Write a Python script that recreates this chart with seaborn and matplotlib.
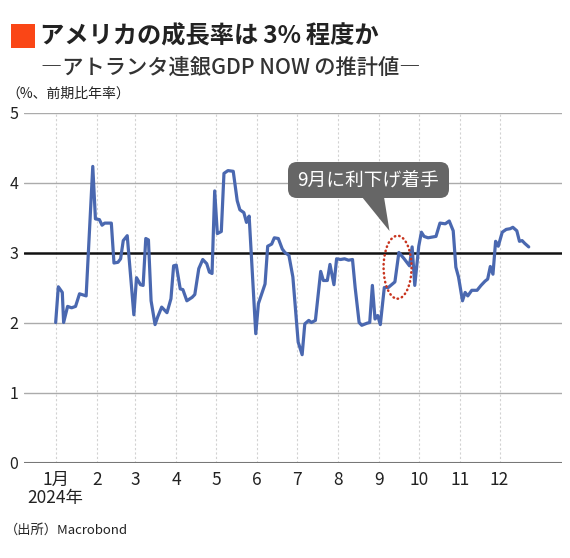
import matplotlib
matplotlib.use("Agg")
import matplotlib.pyplot as plt
import matplotlib.dates as mdates
from matplotlib.patches import FancyBboxPatch, Polygon, Rectangle, Ellipse
import seaborn as sns
import pandas as pd

# ---------------- data ----------------
dates = ["01-01", "01-03", "01-06", "01-07", "01-10", "01-13", "01-16", "01-19", "01-24", "01-29",
         "01-31", "02-03", "02-05", "02-07", "02-12", "02-14", "02-17", "02-19", "02-21", "02-24",
         "02-29", "03-02", "03-05", "03-07", "03-09", "03-11", "03-13", "03-16", "03-18", "03-21",
         "03-25", "03-28", "03-30", "04-01", "04-04", "04-06", "04-09", "04-13", "04-15", "04-18",
         "04-21", "04-24", "04-26", "04-28", "04-30", "05-02", "05-05", "05-07", "05-10", "05-14",
         "05-17", "05-19", "05-22", "05-24", "05-26", "05-31", "06-02", "06-07", "06-09", "06-12",
         "06-14", "06-17", "06-20", "06-22", "06-25", "06-28", "07-02", "07-05", "07-07", "07-10",
         "07-12", "07-15", "07-19", "07-21", "07-24", "07-26", "07-29", "07-31", "08-03", "08-06",
         "08-09", "08-12", "08-14", "08-17", "08-19", "08-23", "08-25", "08-27", "08-29", "08-31",
         "09-02", "09-05", "09-08", "09-13", "09-16", "09-20", "09-24", "09-26", "09-28", "10-01",
         "10-03", "10-05", "10-08", "10-14", "10-17", "10-21", "10-24", "10-27", "10-29", "10-31",
         "11-03", "11-05", "11-07", "11-10", "11-14", "11-17", "11-20", "11-22", "11-24", "11-26",
         "11-28", "11-30", "12-03", "12-06", "12-09", "12-11", "12-14", "12-16", "12-18", "12-20",
         "12-23"]
gdpnow = [2.00, 2.51, 2.43, 2.00, 2.23, 2.21, 2.23, 2.41, 2.38, 4.23,
          3.48, 3.47, 3.39, 3.42, 3.42, 2.85, 2.86, 2.91, 3.17, 3.24,
          2.11, 2.64, 2.54, 2.53, 3.20, 3.18, 2.31, 1.97, 2.08, 2.22,
          2.14, 2.34, 2.81, 2.82, 2.48, 2.47, 2.31, 2.36, 2.40, 2.77,
          2.90, 2.84, 2.72, 2.70, 3.88, 3.27, 3.30, 4.13, 4.17, 4.16,
          3.74, 3.61, 3.57, 3.43, 3.52, 1.84, 2.27, 2.55, 3.09, 3.12,
          3.21, 3.20, 3.05, 3.00, 2.96, 2.65, 1.72, 1.54, 1.98, 2.03,
          2.00, 2.03, 2.73, 2.60, 2.60, 2.83, 2.54, 2.91, 2.90, 2.91,
          2.89, 2.90, 2.50, 2.00, 1.96, 1.99, 2.00, 2.53, 2.05, 2.10,
          1.97, 2.50, 2.50, 2.58, 3.00, 2.91, 2.81, 3.08, 2.53, 3.09,
          3.29, 3.23, 3.21, 3.23, 3.42, 3.41, 3.45, 3.31, 2.79, 2.65,
          2.31, 2.43, 2.38, 2.46, 2.46, 2.53, 2.59, 2.62, 2.80, 2.69,
          3.16, 3.09, 3.29, 3.33, 3.34, 3.36, 3.31, 3.16, 3.17, 3.13,
          3.08]
month_labels = ["1月\n2024年", "2", "3", "4", "5", "6", "7", "8", "9", "10", "11", "12"]
y_ticks = [0, 1, 2, 3, 4, 5]

title = "アメリカの成長率は\u20093%\u2009程度か"
subtitle = "―アトランタ連銀GDP NOW\u2009の推計値―"
unit_label = "（%、前期比年率）"
source = "（出所）Macrobond"
callout = "9月に利下げ着手"

# ---------------- style ----------------
sns.set_style("white")
plt.rcParams["font.family"] = ["Noto Sans CJK JP", "DejaVu Sans"]

W, H = 570, 558
fig = plt.figure(figsize=(W / 100, H / 100), dpi=100)


def fx(px):
    return px / W


def fy(py):
    return 1 - py / H


ax = fig.add_axes([fx(24), fy(462.5), fx(562) - fx(24), fy(112.5) - fy(462.5)])

df = pd.DataFrame({"date": pd.to_datetime(["2024-" + d for d in dates]), "gdp": gdpnow})
sns.lineplot(data=df, x="date", y="gdp", ax=ax, color="#4A68B0", linewidth=2.3, zorder=5)

base = pd.Timestamp("2024-01-01")
ax.set_xlim(base - pd.Timedelta(days=23.9), base + pd.Timedelta(days=382.1))
ax.set_ylim(0, 5)
ticks = pd.date_range("2024-01-01", periods=12, freq="MS")
ax.set_xticks(ticks)
ax.set_xticklabels(month_labels, linespacing=1.0)
ax.set_yticks(y_ticks)
ax.set_yticklabels([str(v) for v in y_ticks])

for y in [1, 2, 4, 5]:
    ax.axhline(y, color="#ababab", lw=1.0, zorder=1)
ax.axhline(3, color="#111111", lw=1.8, zorder=3)
ax.axhline(0, color="#777777", lw=1.5, zorder=3)
for t in ticks:
    ax.axvline(t, color="#d2d2d2", lw=0.8, ls=(0, (2, 2)), zorder=0)

for s in ax.spines.values():
    s.set_visible(False)
ax.tick_params(axis="both", length=0, colors="#222222")
ax.tick_params(axis="x", labelsize=12.5, pad=6)
ax.tick_params(axis="y", labelsize=11.5, pad=4)
ax.set_xlabel("")
ax.set_ylabel("")

# dotted ellipse around September
center = mdates.date2num(pd.Timestamp("2024-09-15"))
ell = Ellipse((center, 2.79), width=21.1, height=0.9, fill=False, ec="#C8341E",
              lw=1.8, ls=(0, (0.2, 1.6)), zorder=6)
ell.set_capstyle("round")
ax.add_patch(ell)

# ---------------- overlay for texts ----------------
ov = fig.add_axes([0, 0, 1, 1], zorder=10)
ov.set_xlim(0, W)
ov.set_ylim(H, 0)
ov.axis("off")
ov.patch.set_alpha(0)

ov.add_patch(Rectangle((11, 24), 24, 24, fc="#FA4616", ec="none"))
ov.text(40, 36.5, title, fontsize=17.5, fontweight="bold", color="#222222", ha="left", va="center")
ov.text(41, 67.5, subtitle, fontsize=15.3, fontweight="medium", color="#333333", ha="left", va="center")
ov.text(6, 93.3, unit_label, fontsize=10, color="#222222", ha="left", va="center")
ov.text(5, 530, source, fontsize=9.5, color="#222222", ha="left", va="center")

ov.add_patch(FancyBboxPatch((288, 162), 161, 36, boxstyle="round,pad=0,rounding_size=9",
                            fc="#666666", ec="none"))
ov.add_patch(Polygon([(362, 197), (384, 197), (389.5, 231)], closed=True, fc="#666666", ec="none"))
ov.text(368.5, 180, callout, fontsize=13.5, color="white", ha="center", va="center")

fig.savefig("out.png", dpi=100)
